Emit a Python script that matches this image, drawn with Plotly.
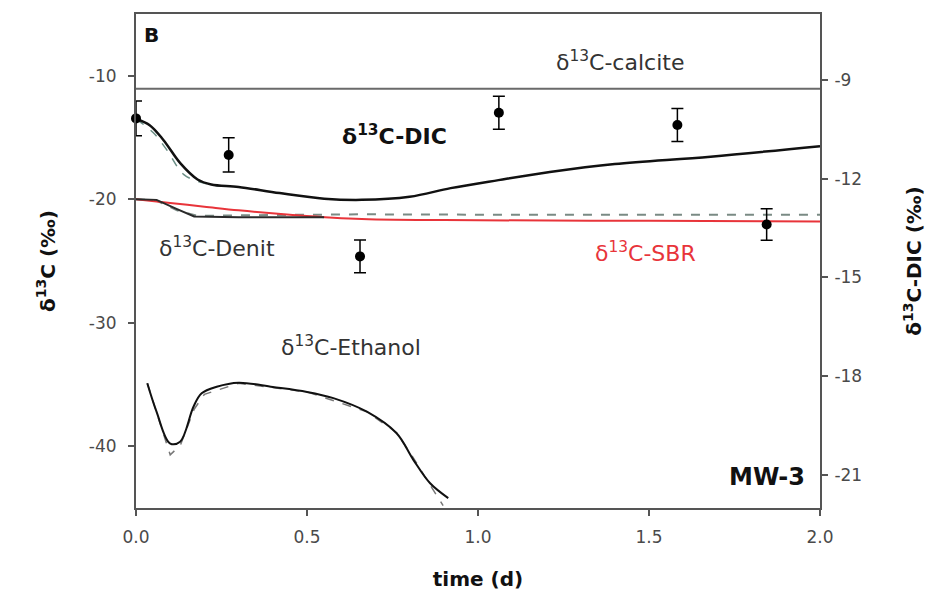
import plotly.graph_objects as go

# ---------------- data ----------------
# measured DIC (right axis, per mil)
obs_t = [0.0, 0.271, 0.655, 1.061, 1.583, 1.844]
obs_dic = [-10.17, -11.28, -14.36, -10.0, -10.37, -13.39]
obs_err = [0.53, 0.52, 0.5, 0.5, 0.5, 0.48]

# calcite reference (left axis)
calcite_t = [0.0, 2.0]
calcite_v = [-11.06, -11.06]

# modelled DIC (left axis)
dic_t = [0, 0.04, 0.08, 0.13, 0.18, 0.22, 0.3, 0.42, 0.55, 0.66, 0.8, 0.92, 1.06, 1.21, 1.4, 1.68, 2.0]
dic_v = [-13.5, -14.0, -15.2, -17.1, -18.4, -18.8, -19.0, -19.5, -19.95, -20.05, -19.8, -19.1, -18.45, -17.8, -17.15, -16.55, -15.7]
dic2_t = [0, 0.05, 0.09, 0.14, 0.2, 0.25]
dic2_v = [-13.5, -14.6, -16.0, -18.0, -18.7, -18.95]

# denitrification
denit_t = [0, 0.06, 0.12, 0.17, 0.3, 0.55]
denit_v = [-20.0, -20.05, -20.8, -21.4, -21.45, -21.45]
denit2_t = [0, 0.06, 0.12, 0.18, 0.3, 0.66, 1.0, 1.5, 2.0]
denit2_v = [-20.0, -20.1, -20.9, -21.35, -21.3, -21.22, -21.25, -21.25, -21.25]

# SBR
sbr_t = [0, 0.1, 0.2, 0.3, 0.45, 0.66, 1.0, 1.5, 2.0]
sbr_v = [-20.0, -20.3, -20.6, -20.9, -21.25, -21.6, -21.7, -21.75, -21.8]

# ethanol
eth_t = [0.033, 0.06, 0.099, 0.129, 0.168, 0.192, 0.236, 0.3, 0.4, 0.5, 0.577, 0.675, 0.762, 0.811, 0.86, 0.913]
eth_v = [-34.9, -37.2, -39.76, -39.63, -36.8, -35.71, -35.18, -34.85, -35.2, -35.6, -36.1, -37.2, -38.95, -41.1, -43.0, -44.2]
eth2_t = [0.033, 0.07, 0.1, 0.13, 0.17, 0.2, 0.3, 0.5, 0.675, 0.762, 0.81, 0.85, 0.898]
eth2_v = [-34.9, -38.0, -40.7, -39.9, -37.0, -35.8, -34.9, -35.6, -37.2, -38.9, -40.9, -42.7, -44.8]

x_ticks = [0, 0.5, 1.0, 1.5, 2.0]
x_ticktext = ["0.0", "0.5", "1.0", "1.5", "2.0"]
yl_ticks = [-10, -20, -30, -40]
yl_ticktext = ["-10", "-20", "-30", "-40"]
yr_ticks = [-9, -12, -15, -18, -21]
yr_ticktext = ["-9", "-12", "-15", "-18", "-21"]

FONT = "DejaVu Sans"

fig = go.Figure()

fig.add_trace(go.Scatter(x=calcite_t, y=calcite_v, mode="lines",
                         line=dict(color="#6a6a6a", width=2), hoverinfo="skip"))
fig.add_trace(go.Scatter(x=denit2_t, y=denit2_v, mode="lines",
                         line=dict(color="#7a8a84", width=2, dash="dash")))
fig.add_trace(go.Scatter(x=sbr_t, y=sbr_v, mode="lines",
                         line=dict(color="#e8343a", width=2, shape="spline")))
fig.add_trace(go.Scatter(x=denit_t, y=denit_v, mode="lines",
                         line=dict(color="#2a2a2a", width=2)))
fig.add_trace(go.Scatter(x=dic2_t, y=dic2_v, mode="lines",
                         line=dict(color="#6b8f86", width=1.5, dash="dash", shape="spline")))
fig.add_trace(go.Scatter(x=dic_t, y=dic_v, mode="lines",
                         line=dict(color="#111111", width=2.5, shape="spline")))
fig.add_trace(go.Scatter(x=eth2_t, y=eth2_v, mode="lines",
                         line=dict(color="#777777", width=1.5, dash="dash")))
fig.add_trace(go.Scatter(x=eth_t, y=eth_v, mode="lines",
                         line=dict(color="#111111", width=2, shape="spline")))
fig.add_trace(go.Scatter(x=obs_t, y=obs_dic, mode="markers", yaxis="y2",
                         marker=dict(color="black", size=10),
                         error_y=dict(type="data", array=obs_err, visible=True,
                                      color="black", thickness=1.5, width=6),
                         cliponaxis=False))

lbl = dict(family=FONT, size=22, color="#333333")
annotations = [
    dict(x=0.046, y=-6.72, text="<b>B</b>", font=dict(family=FONT, size=20, color="#111")),
    dict(x=1.415, y=-8.8, text="δ<sup>13</sup>C-calcite", font=lbl),
    dict(x=0.755, y=-14.8, text="<b>δ<sup>13</sup>C-DIC</b>",
         font=dict(family=FONT, size=22, color="#111")),
    dict(x=0.238, y=-23.9, text="δ<sup>13</sup>C-Denit", font=lbl),
    dict(x=1.49, y=-24.3, text="δ<sup>13</sup>C-SBR",
         font=dict(family=FONT, size=22, color="#e8343a")),
    dict(x=0.629, y=-31.9, text="δ<sup>13</sup>C-Ethanol", font=lbl),
    dict(x=1.844, y=-42.5, text="<b>MW-3</b>", font=dict(family=FONT, size=24, color="#111")),
]
for a in annotations:
    a.update(xref="x", yref="y", showarrow=False)

axis_common = dict(showgrid=False, zeroline=False, showline=True, linecolor="#555555",
                   linewidth=2, ticks="outside", ticklen=6, tickwidth=1.5,
                   tickcolor="#555555", automargin=False,
                   tickfont=dict(family=FONT, size=17, color="#4a4a4a"))

# the page body adds an 8px margin, so the figure is sized/margined to compensate
fig.update_layout(
    width=943, height=597,
    margin=dict(l=128, r=131, t=6, b=97),
    paper_bgcolor="white", plot_bgcolor="white",
    showlegend=False,
    xaxis=dict(range=[0, 2], tickvals=x_ticks, ticktext=x_ticktext, mirror=True,
               ticklabelstandoff=7,
               title=dict(text="<b>time (d)</b>", standoff=26,
                          font=dict(family=FONT, size=20, color="#111")),
               **axis_common),
    yaxis=dict(range=[-45, -5], tickvals=yl_ticks, ticktext=yl_ticktext,
               ticklabelstandoff=8,
               title=dict(text="<b>δ<sup>13</sup>C (‰)</b>", standoff=28,
                          font=dict(family=FONT, size=20, color="#111")),
               **axis_common),
    yaxis2=dict(range=[-22, -7], tickvals=yr_ticks, ticktext=yr_ticktext,
                overlaying="y", side="right", ticklabelstandoff=3,
                title=dict(text="<b>δ<sup>13</sup>C-DIC (‰)</b>", standoff=46,
                           font=dict(family=FONT, size=20, color="#111")),
                **axis_common),
    annotations=annotations,
)

fig.write_html("out.html")
